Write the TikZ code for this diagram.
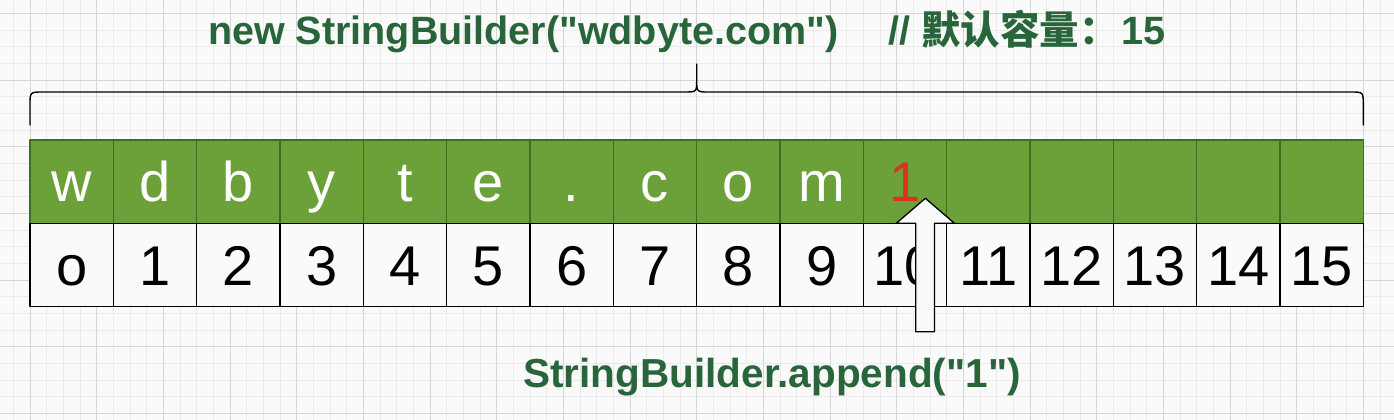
\documentclass[tikz,border=0pt]{standalone}
\usepackage{fontspec}
\setmainfont{Liberation Sans}[Ligatures=TeXOff]
\newfontfamily\cjk{Noto Sans CJK SC}[Ligatures=TeXOff]
\usetikzlibrary{positioning}

\definecolor{sbgreen}{HTML}{6CA038}
\definecolor{sbedge}{HTML}{3E6F20}
\definecolor{sbtext}{HTML}{28653A}
\definecolor{sbred}{HTML}{DC321E}
\definecolor{paper}{HTML}{FAFAFA}
\definecolor{gridminor}{HTML}{EBEBEB}
\definecolor{gridmajor}{HTML}{D6D6D6}

\tikzset{
    cell/.style={draw, minimum width=83.33pt, minimum height=83.33pt, inner sep=0pt,
        outer sep=0pt, line width=1.3pt, text height=40pt, text depth=0pt,
        font=\fontsize{56}{60}\selectfont},
    char/.style={cell, fill=sbgreen, draw=sbedge, text=white},
    idx/.style={cell, fill=paper, draw=black},
    code/.style={text=sbtext, inner sep=0pt, font=\fontsize{39.5}{46}\selectfont\bfseries},
    brace/.style={line width=1.4pt, line cap=round},
    hollow/.style={fill=paper, draw=black, line width=1.3pt},
}

\begin{document}
\begin{tikzpicture}[x=1pt, y=-1pt, line join=round]
    \useasboundingbox[fill=paper] (0,0) rectangle (1394,420);

    % grid paper
    \foreach \k in {-1,...,82}
        \draw[gridminor, line width=0.8pt] ({30+16.667*\k},0) -- ++(0,420);
    \foreach \k in {0,...,24}
        \draw[gridminor, line width=0.8pt] (0,{13.333+16.667*\k}) -- ++(1394,0);
    \foreach \k in {0,...,20}
        \draw[gridmajor, line width=1pt] ({30+66.667*\k},0) -- ++(0,420);
    \foreach \k in {0,...,6}
        \draw[gridmajor, line width=1pt] (0,{13.333+66.667*\k}) -- ++(1394,0);

    % value array
    \node[char] (c0) at (71.67,181.67) {w};
    \foreach \ch [count=\i from 1, evaluate=\i as \j using int(\i-1)] in
            {d,b,y,t,e,.,c,o,m,{\color{sbred}1},{},{},{},{},{}}
        \node[char, right=0pt of c\j] (c\i) {\ch};
    \foreach \t [count=\i from 0] in {o,1,2,3,4,5,6,7,8,9,10,11,12,13,14,15}
        \node[idx, below=0pt of c\i] (n\i) {\t};

    % capacity brace
    \draw[brace] (30,125) -- (30,105) .. controls (30,92) .. (43,92)
        -- (684,92) .. controls (696.7,92) .. (696.7,80) -- (696.7,64)
        -- (696.7,80) .. controls (696.7,92) .. (709,92)
        -- (1350.3,92) .. controls (1363.3,92) .. (1363.3,105) -- (1363.3,125);

    \node[code, anchor=base west] (ctor) at (208,45)
        {new StringBuilder("wdbyte.com")\hspace*{50pt}// {\cjk 默认容量：}\hspace*{3pt}15};
    \node[code, anchor=base, font=\fontsize{40.5}{46}\selectfont\bfseries] (append)
        at (772,387) {StringBuilder.append("1")};

    % append arrow
    \coordinate (tip) at (925.3,198.3);
    \draw[hollow] (tip) -- (954.5,223.3) -- (934.5,223.3) -- (934.5,331.7)
        -- (915.7,331.7) -- (915.7,223.3) -- (896.3,223.3) -- cycle;
\end{tikzpicture}
\end{document}
